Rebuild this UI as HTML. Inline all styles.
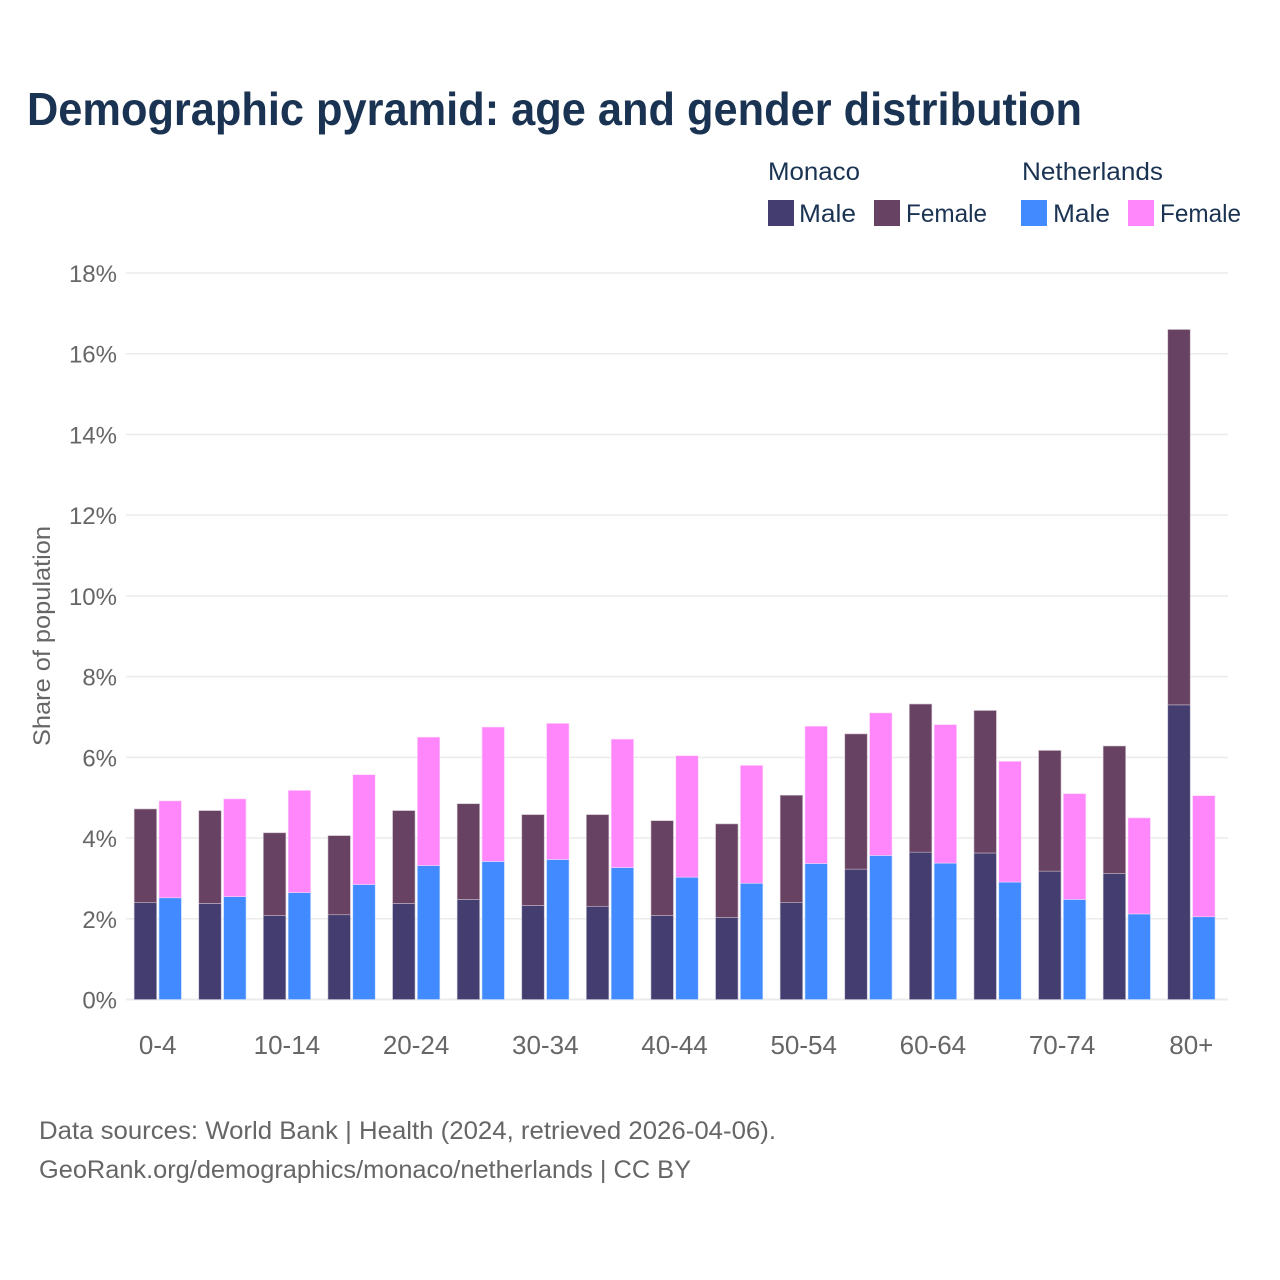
<!DOCTYPE html>
<html lang="en">
<head>
<meta charset="utf-8">
<title>Demographic pyramid: age and gender distribution</title>
<style>
html,body{margin:0;padding:0;background:#fff;}
svg{display:block;font-family:"Liberation Sans",Arial,sans-serif;}
</style>
</head>
<body>
<svg id="chart" xmlns="http://www.w3.org/2000/svg" width="1280" height="1280" viewBox="0 0 1280 1280">
  <rect x="0" y="0" width="1280" height="1280" fill="#ffffff"/>
  <text x="27" y="125" font-size="46" font-weight="700" fill="#1a3352" textLength="1055" lengthAdjust="spacingAndGlyphs">Demographic pyramid: age and gender distribution</text>

  <g font-size="25" fill="#1a3352">
    <text x="768" y="180" textLength="92" lengthAdjust="spacingAndGlyphs">Monaco</text>
    <text x="1022" y="180" textLength="141" lengthAdjust="spacingAndGlyphs">Netherlands</text>
    <rect x="768" y="200" width="26" height="26" fill="#433e6f"/>
    <text x="799" y="222" textLength="57" lengthAdjust="spacingAndGlyphs">Male</text>
    <rect x="874" y="200" width="26" height="26" fill="#674262"/>
    <text x="906" y="222" textLength="81" lengthAdjust="spacingAndGlyphs">Female</text>
    <rect x="1021" y="200" width="26" height="26" fill="#418aff"/>
    <text x="1053" y="222" textLength="57" lengthAdjust="spacingAndGlyphs">Male</text>
    <rect x="1128" y="200" width="26" height="26" fill="#ff86fb"/>
    <text x="1160" y="222" textLength="81" lengthAdjust="spacingAndGlyphs">Female</text>
  </g>

  <g id="grid"></g>
  <g id="yticks"></g>
  <g id="bars"></g>
  <g id="xticks"></g>

  <text transform="translate(50,636) rotate(-90)" text-anchor="middle" font-size="24" fill="#666666" textLength="220" lengthAdjust="spacingAndGlyphs">Share of population</text>

  <text x="39" y="1139" font-size="25" fill="#666666" textLength="737" lengthAdjust="spacingAndGlyphs">Data sources: World Bank | Health (2024, retrieved 2026-04-06).</text>
  <text x="39" y="1178" font-size="25" fill="#666666" textLength="652" lengthAdjust="spacingAndGlyphs">GeoRank.org/demographics/monaco/netherlands | CC BY</text>
</svg>
<script>
const ageGroups = ["0-4","5-9","10-14","15-19","20-24","25-29","30-34","35-39","40-44","45-49","50-54","55-59","60-64","65-69","70-74","75-79","80+"];
const xTickLabels = ["0-4","10-14","20-24","30-34","40-44","50-54","60-64","70-74","80+"];
const yTickValues = [0,2,4,6,8,10,12,14,16,18];
const monacoMale = [2.40,2.38,2.08,2.10,2.38,2.48,2.33,2.31,2.08,2.03,2.40,3.23,3.65,3.63,3.18,3.12,7.30];
const monacoFemale = [2.32,2.30,2.05,1.96,2.30,2.37,2.25,2.27,2.35,2.32,2.66,3.35,3.67,3.53,2.99,3.16,9.30];
const netherlandsMale = [2.52,2.55,2.65,2.85,3.32,3.42,3.47,3.27,3.03,2.88,3.37,3.57,3.38,2.91,2.48,2.12,2.05];
const netherlandsFemale = [2.40,2.42,2.53,2.72,3.18,3.33,3.37,3.18,3.01,2.92,3.40,3.53,3.43,2.99,2.62,2.38,3.00];

const NS = "http://www.w3.org/2000/svg";
const plotLeft = 126, plotRight = 1228, baseY = 999.5, topY = 273, maxV = 18;
const firstX = 158, stepX = 64.6, barW = 22.4;

function yScale(v){ return baseY - (v / maxV) * (baseY - topY); }
function xScale(i){ return firstX + i * stepX; }

function make(tag, attrs, text){
  const el = document.createElementNS(NS, tag);
  for (const k in attrs) el.setAttribute(k, attrs[k]);
  if (text !== undefined) el.textContent = text;
  return el;
}

const grid = document.getElementById("grid");
const yticks = document.getElementById("yticks");
yTickValues.forEach(function(v){
  const y = yScale(v);
  const line = make("line", {x1: plotLeft, x2: plotRight, y1: y, y2: y, stroke: "#ebebeb", "stroke-width": v === 0 ? 2 : 1.5});
  
  
  grid.appendChild(line);
  const label = make("text", {x: 117, y: y + 9, "text-anchor": "end", "font-size": 24, fill: "#666666"}, v + "%");
  
  
  yticks.appendChild(label);
});

const bars = document.getElementById("bars");
function addBar(x, v0, v1, fill, edge){
  const yTop = yScale(v1), yBottom = yScale(v0);
  const r = make("rect", {x: x, y: yTop, width: barW, height: yBottom - yTop, fill: fill, stroke: edge, "stroke-width": 0.6});
  
  
  bars.appendChild(r);
}
ageGroups.forEach(function(g, i){
  const c = xScale(i);
  const xa = c - 23.8, xb = c + 1;
  addBar(xa, 0, monacoMale[i], "#433e6f", "#b9b7cb");
  addBar(xa, monacoMale[i], monacoMale[i] + monacoFemale[i], "#674262", "#c8b8c5");
  addBar(xb, 0, netherlandsMale[i], "#418aff", "#c4dbff");
  addBar(xb, netherlandsMale[i], netherlandsMale[i] + netherlandsFemale[i], "#ff86fb", "#ffd5fd");
});

const xticks = document.getElementById("xticks");
xTickLabels.forEach(function(lbl){
  const i = ageGroups.indexOf(lbl);
  const t = make("text", {x: xScale(i) - 0.3, y: 1054, "text-anchor": "middle", "font-size": 26, fill: "#666666"}, lbl);
  
  
  xticks.appendChild(t);
});
</script>
</body>
</html>
